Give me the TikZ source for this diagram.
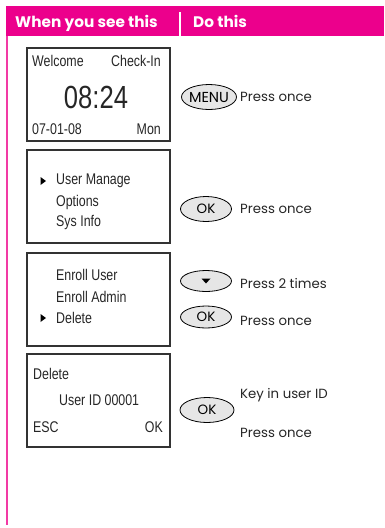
\documentclass[tikz,border=0pt]{standalone}
\usepackage{fontspec}
\usetikzlibrary{shapes.geometric}
\setmainfont{Liberation Sans}
\newfontfamily\lcdfont[FakeStretch=0.8]{Liberation Sans}
\newfontfamily\btnfont{Poppins}
\definecolor{pinkhdr}{HTML}{EC008C}
\definecolor{pinkline}{HTML}{F23AA5}
\definecolor{btnfill}{HTML}{E6E6E6}
\definecolor{boxline}{HTML}{333333}
\begin{document}
\begin{tikzpicture}[x=1pt,y=-1pt,
  screen/.style={draw=boxline,line width=1.1pt},
  lcd/.style={font=\lcdfont\fontsize{15.5}{16}\selectfont,inner sep=0pt,text=black!85},
  btn/.style={ellipse,draw=black,fill=btnfill,line width=0.8pt,inner sep=0pt,font=\btnfont\fontsize{13.5}{14}\selectfont},
  act/.style={anchor=west,inner sep=0pt,font=\btnfont\fontsize{13.3}{14}\selectfont,text=black!85},
  hdr/.style={anchor=base west,inner sep=0pt,text=white,font=\btnfont\bfseries\fontsize{15.3}{16}\selectfont}]
\useasboundingbox (0,0) rectangle (384,528);
% header
\fill[pinkhdr] (6,6) rectangle (384,36);
\fill[pinkline] (6,36) rectangle (8.3,525);
\draw[white,line width=1.6pt] (180,12) -- (180,36);
\node[hdr] (h1) at (15,27) {When you see this};
\node[hdr] (h2) at (193,27) {Do this};
% screens
\draw[screen] (27,48) rectangle (170,141);
\draw[screen] (27,150) rectangle (170,243);
\draw[screen] (27,253) rectangle (170,346);
\draw[screen] (27,354) rectangle (170,447);
% screen 1
\node[lcd,anchor=west] (s1a) at (32,61) {Welcome};
\node[lcd,anchor=east] (s1b) at (161,61) {Check-In};
\node[lcd,font=\lcdfont\fontsize{32}{32}\selectfont] (s1c) at (96,97) {08:24};
\node[lcd,anchor=west] (s1d) at (32,129) {07-01-08};
\node[lcd,anchor=east] (s1e) at (161,129) {Mon};
% screen 2
\fill (40.5,177) -- (46,181) -- (40.5,185) -- cycle;
\node[lcd,anchor=west] (s2a) at (56,181) {User Manage};
\node[lcd,anchor=west] (s2b) at (56,202) {Options};
\node[lcd,anchor=west] (s2c) at (56,222) {Sys Info};
% screen 3
\node[lcd,anchor=west] (s3a) at (56,275) {Enroll User};
\node[lcd,anchor=west] (s3b) at (56,297) {Enroll Admin};
\fill (40.5,314) -- (46,318) -- (40.5,322) -- cycle;
\node[lcd,anchor=west] (s3c) at (56,318) {Delete};
% screen 4
\node[lcd,anchor=west] (s4a) at (33,374) {Delete};
\node[lcd,anchor=west] (s4b) at (59,400) {User ID 00001};
\node[lcd,anchor=west] (s4c) at (33,427) {ESC};
\node[lcd,anchor=east] (s4d) at (163,427) {OK};
% buttons
\node[btn,minimum width=55pt,minimum height=25pt,inner xsep=-3pt,font=\btnfont\fontsize{14.5}{15}\selectfont] (b1) at (209,97) {MENU};
\node[act] (t1) at (240,97) {Press once};
\node[btn,minimum width=51pt,minimum height=25pt] (b2) at (206,209) {OK};
\node[act] (t2) at (240,209) {Press once};
\node[btn,minimum width=51pt,minimum height=21pt] (b3) at (206,281) {};
\fill (b3.center) ++(-4.5,-2.5) -- ++(9,0) -- ++(-4.5,5) -- cycle;
\node[act] (t3) at (240,283) {Press 2 times};
\node[btn,minimum width=51pt,minimum height=22pt] (b4) at (206,317) {OK};
\node[act] (t4) at (240,321) {Press once};
\node[btn,minimum width=54pt,minimum height=25pt] (b5) at (207,410) {OK};
\node[act] (t5) at (240,395) {Key in user ID};
\node[act] (t6) at (240,433) {Press once};
\end{tikzpicture}
\end{document}
